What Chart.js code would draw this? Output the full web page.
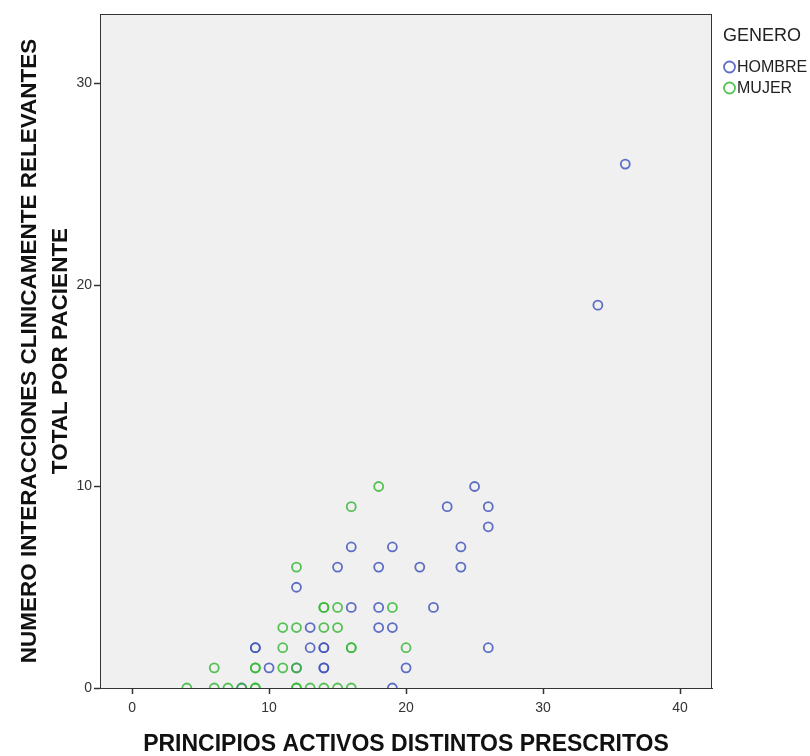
<!DOCTYPE html>
<html>
<head>
<meta charset="utf-8">
<script src="https://cdn.jsdelivr.net/npm/chart.js@4.4.1/dist/chart.umd.min.js"></script>
<style>
  html, body { margin: 0; padding: 0; background: #ffffff; }
  #wrap { width: 810px; height: 756px; position: relative; }
</style>
</head>
<body>
<div id="wrap"><canvas id="scatter-chart" width="810" height="756"></canvas></div>
<script>
// Valeurs (x = principios activos, y = interacciones)
const hombreX = [36, 34, 25, 23, 26, 26, 16, 19, 24, 15, 18, 21, 24, 12, 16, 18, 22, 13, 18, 19, 9, 9, 13, 14, 14, 26, 10, 14, 14, 20, 12, 8, 19];
const hombreY = [26, 19, 10, 9, 9, 8, 7, 7, 7, 6, 6, 6, 6, 5, 4, 4, 4, 3, 3, 3, 2, 2, 2, 2, 2, 2, 1, 1, 1, 1, 1, 0, 0];
const mujerX = [18, 16, 12, 14, 14, 15, 19, 11, 12, 14, 15, 11, 16, 16, 20, 6, 9, 9, 11, 12, 4, 6, 7, 8, 9, 9, 12, 12, 13, 14, 15, 16];
const mujerY = [10, 9, 6, 4, 4, 4, 4, 3, 3, 3, 3, 2, 2, 2, 2, 1, 1, 1, 1, 1, 0, 0, 0, 0, 0, 0, 0, 0, 0, 0, 0, 0];
const seriesLabels = ['HOMBRE', 'MUJER'];
const xTicks = [0, 10, 20, 30, 40];
const yTicks = [0, 10, 20, 30];

const BLUE = 'rgba(66, 86, 188, 0.85)';
const GREEN = 'rgba(56, 184, 56, 0.85)';
const AXIS = '#333333';
const FONT = '"Liberation Sans", Arial, sans-serif';

function toPoints(xs, ys) {
    return xs.map((x, i) => ({ x: x, y: ys[i] }));
}

// Fond gris de la zone de tracé + cadre
const plotFrame = {
    id: 'plotFrame',
    beforeDraw(chart) {
        const { ctx, chartArea: a } = chart;
        ctx.save();
        ctx.fillStyle = '#f0f0f0';
        ctx.fillRect(a.left, a.top, a.right - a.left, a.bottom - a.top);
        ctx.restore();
    },
    afterDraw(chart) {
        const { ctx, chartArea: a } = chart;
        ctx.save();
        ctx.strokeStyle = AXIS;
        ctx.lineWidth = 1;
        ctx.strokeRect(a.left + 0.5, a.top + 0.5, a.right - a.left - 1, a.bottom - a.top);
        ctx.restore();
    }
};

// Légende à droite, style SPSS
const sideLegend = {
    id: 'sideLegend',
    afterDraw(chart) {
        const { ctx } = chart;
        const x0 = 723;
        ctx.save();
        ctx.fillStyle = '#222';
        ctx.textBaseline = 'middle';
        ctx.font = '18px ' + FONT;
        ctx.fillText('GENERO', x0, 36);
        ctx.font = '16px ' + FONT;
        chart.data.datasets.forEach((ds, i) => {
            const y = 67 + i * 21;
            ctx.beginPath();
            ctx.arc(x0 + 6.5, y, 5.5, 0, Math.PI * 2);
            ctx.strokeStyle = ds.borderColor;
            ctx.lineWidth = 1.8;
            ctx.stroke();
            ctx.fillStyle = '#222';
            ctx.fillText(ds.label, x0 + 14, y + 1);
        });
        ctx.restore();
    }
};

const chart = new Chart(document.getElementById('scatter-chart'), {
    type: 'scatter',
    data: {
        datasets: [
            {
                label: seriesLabels[0],
                data: toPoints(hombreX, hombreY),
                borderColor: BLUE,
                backgroundColor: 'transparent',
                borderWidth: 1.8,
                pointRadius: 4.5,
                pointHoverRadius: 5,
                order: 2
            },
            {
                label: seriesLabels[1],
                data: toPoints(mujerX, mujerY),
                borderColor: GREEN,
                backgroundColor: 'transparent',
                borderWidth: 1.8,
                pointRadius: 4.5,
                pointHoverRadius: 5,
                order: 1
            }
        ]
    },
    options: {
        responsive: false,
        animation: false,
        devicePixelRatio: 1,
        layout: { padding: { top: 14, right: 98, left: 0, bottom: 0 } },
        plugins: {
            legend: { display: false },
            tooltip: { enabled: false }
        },
        scales: {
            x: {
                type: 'linear',
                min: -2.34,
                max: 42.33,
                afterBuildTicks: (scale) => { scale.ticks = xTicks.map(v => ({ value: v })); },
                afterFit: (scale) => { scale.height = 68; },
                grid: { display: true, drawOnChartArea: false, drawTicks: true, tickLength: 6, color: AXIS, tickWidth: 1.5 },
                border: { display: true, color: AXIS, width: 1 },
                ticks: {
                    color: '#333',
                    padding: 6,
                    maxRotation: 0,
                    font: { family: FONT, size: 14 }
                },
                title: {
                    display: true,
                    text: 'PRINCIPIOS ACTIVOS DISTINTOS PRESCRITOS',
                    color: '#111',
                    padding: { top: 0, bottom: 0 },
                    font: { family: FONT, size: 23, weight: 'bold', lineHeight: 1 }
                }
            },
            y: {
                type: 'linear',
                min: 0,
                max: 33.45,
                afterBuildTicks: (scale) => { scale.ticks = yTicks.map(v => ({ value: v })); },
                afterFit: (scale) => { scale.width = 100; },
                grid: { display: true, drawOnChartArea: false, drawTicks: true, tickLength: 6, color: AXIS, tickWidth: 1.5 },
                border: { display: true, color: AXIS, width: 1 },
                ticks: {
                    color: '#333',
                    padding: 2,
                    font: { family: FONT, size: 14 }
                },
                title: {
                    display: true,
                    text: ['NUMERO INTERACCIONES CLINICAMENTE RELEVANTES', 'TOTAL POR PACIENTE'],
                    color: '#111',
                    padding: { top: 15, bottom: 0 },
                    font: { family: FONT, size: 22.5, weight: 'bold', lineHeight: 1.35 }
                }
            }
        }
    },
    plugins: [plotFrame, sideLegend]
});
</script>
</body>
</html>
